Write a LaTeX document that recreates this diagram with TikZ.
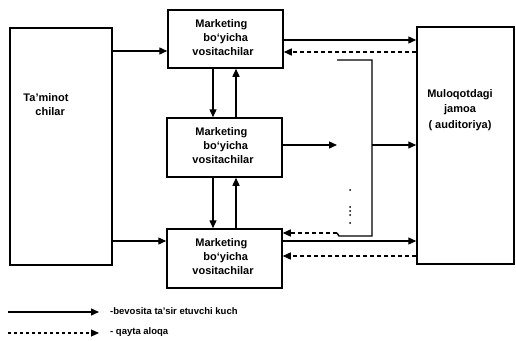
\documentclass[tikz,border=0pt]{standalone}
\usepackage{fontspec}
\setmainfont{Liberation Sans}
\usetikzlibrary{arrows.meta}
\begin{document}
\begin{tikzpicture}[x=1pt,y=-1pt,
  box/.style={draw, line width=1.5pt, inner sep=0pt},
  lbl/.style={font=\fontsize{11}{14}\selectfont\bfseries, align=left, inner sep=0pt},
  arr/.style={line width=1.4pt, -{Triangle[length=8pt,width=7pt]}},
  back/.style={line width=1.4pt, dash pattern=on 4pt off 3pt, -{Triangle[length=8pt,width=7pt]}},
  legtext/.style={font=\fontsize{9.5}{11}\selectfont\bfseries, anchor=west, inner sep=0pt}]
\useasboundingbox (0,0) rectangle (516,340);

% boxes
\node[box, minimum width=102pt, minimum height=237pt] (sup) at (61,146.5) {};
\node[box, minimum width=115pt, minimum height=58pt] (top) at (225.5,39) {};
\node[box, minimum width=115pt, minimum height=59pt] (mid) at (224.5,147.5) {};
\node[box, minimum width=115pt, minimum height=59pt] (bot) at (224.5,258.5) {};
\node[box, minimum width=97pt, minimum height=237pt] (aud) at (465.5,145.5) {};

% box texts
\node[lbl] (suptext) at (46,105) {Ta'minot\\\hspace*{12pt}chilar};
\node[lbl] (toptext) at (223,38) {\hspace*{3pt}Marketing\\\hspace*{11pt}bo`yicha\\vositachilar};
\node[lbl] (midtext) at (223,146) {\hspace*{3pt}Marketing\\\hspace*{11pt}bo`yicha\\vositachilar};
\node[lbl] (bottext) at (223,257) {\hspace*{3pt}Marketing\\\hspace*{11pt}bo`yicha\\vositachilar};
\node[lbl, align=center, font=\fontsize{11}{15.5}\selectfont\bfseries] (audtext) at (460,110) {Muloqotdagi\\jamoa\\( auditoriya)};

% supplier to intermediaries
\draw[arr] (sup.east |- 0,51) -- (top.west |- 0,51);
\draw[arr] (sup.east |- 0,241) -- (bot.west |- 0,241);

% between intermediaries
\draw[arr] (top.south -| 213,0) -- (mid.north -| 213,0);
\draw[arr] (mid.north -| 236,0) -- (top.south -| 236,0);
\draw[arr] (mid.south -| 213,0) -- (bot.north -| 213,0);
\draw[arr] (bot.north -| 236,0) -- (mid.south -| 236,0);

% top intermediary and audience
\draw[arr] (top.east |- 0,40) -- (aud.west |- 0,40);
\draw[back] (aud.west |- 0,52) -- (top.east |- 0,52);

% middle intermediary, bracket of further channels
\coordinate (midend) at (337,145);
\coordinate (brtop) at (337,60);
\coordinate (brright) at (372,145);
\coordinate (brfoot) at (337,233);
\draw[arr] (mid.east |- midend) -- (midend);
\draw[line width=1.4pt] (brtop) -- (372,60) -- (372,236) -- (339,236) -- (brfoot);
\draw[arr] (brright) -- (aud.west |- brright);
\draw[back] (brfoot) -- (bot.east |- brfoot);
\foreach \yy in {190,207,211,215,223}
  \fill (350,\yy) circle (1pt);

% bottom intermediary and audience
\draw[arr] (bot.east |- 0,241) -- (aud.west |- 0,241);
\draw[back] (aud.west |- 0,256) -- (bot.east |- 0,256);

% legend
\coordinate (l1a) at (8,312);
\coordinate (l1b) at (99,312);
\coordinate (l2a) at (8,333);
\coordinate (l2b) at (99,333);
\draw[arr] (l1a) -- (l1b);
\draw[line width=1.1pt, dash pattern=on 3pt off 3pt, -{Triangle[length=8pt,width=7pt]}] (l2a) -- (l2b);
\node[legtext] (leg1) at (110,311) {-bevosita ta'sir etuvchi kuch};
\node[legtext] (leg2) at (110,332) {- qayta aloqa};
\end{tikzpicture}
\end{document}
